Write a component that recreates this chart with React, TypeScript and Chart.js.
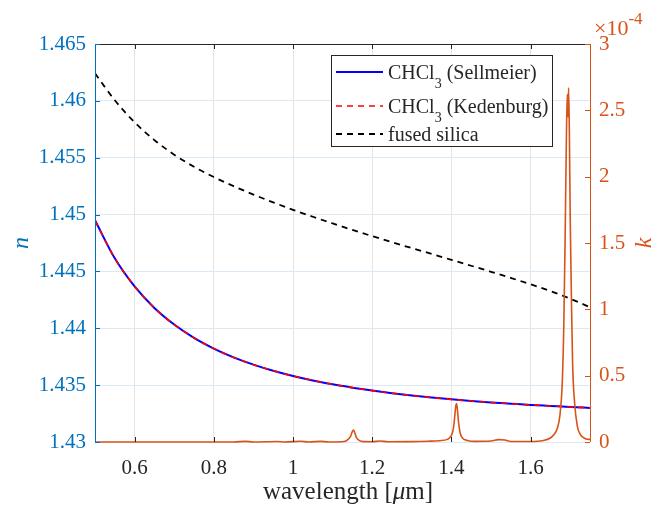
import React, { useEffect, useRef } from "react";
import { Chart, registerables } from "chart.js";

Chart.register(...registerables);

// ---- data ----
const wavelengths = [0.5, 0.55, 0.6, 0.65, 0.7, 0.75, 0.8, 0.85, 0.9, 0.95, 1.0, 1.05, 1.1, 1.15, 1.2, 1.25, 1.3, 1.35, 1.4, 1.45, 1.5, 1.55, 1.6, 1.65, 1.7, 1.75];
const nSellmeier = [1.4495, 1.44615, 1.44368, 1.44179, 1.44033, 1.43916, 1.43822, 1.43744, 1.4368, 1.43626, 1.4358, 1.43541, 1.43507, 1.43478, 1.43452, 1.43429, 1.43409, 1.43391, 1.43375, 1.43361, 1.43348, 1.43337, 1.43326, 1.43317, 1.43308, 1.433];
const nKedenburg = [1.4495, 1.44615, 1.44368, 1.44179, 1.44033, 1.43916, 1.43822, 1.43744, 1.4368, 1.43626, 1.4358, 1.43541, 1.43507, 1.43478, 1.43452, 1.43429, 1.43409, 1.43391, 1.43375, 1.43361, 1.43348, 1.43337, 1.43326, 1.43317, 1.43308, 1.433];
const nSilica = [1.46242, 1.46005, 1.45812, 1.45655, 1.45527, 1.4542, 1.4533, 1.4525, 1.45176, 1.45107, 1.45042, 1.44981, 1.44922, 1.44865, 1.4481, 1.44757, 1.44705, 1.44654, 1.44602, 1.4455, 1.44497, 1.44443, 1.44387, 1.44327, 1.4426, 1.44185];

// k in units of 1e-4
const kWavelengths = [0.5, 0.85, 0.88, 0.9, 0.96, 0.98, 1.02, 1.04, 1.07, 1.09, 1.12, 1.135, 1.145, 1.15, 1.153, 1.156, 1.16, 1.168, 1.18, 1.2, 1.22, 1.24, 1.3, 1.34, 1.37, 1.39, 1.4, 1.405, 1.408, 1.411, 1.413, 1.415, 1.418, 1.422, 1.428, 1.44, 1.46, 1.5, 1.52, 1.535, 1.55, 1.6, 1.63, 1.65, 1.66, 1.667, 1.674, 1.68, 1.684, 1.687, 1.69, 1.6925, 1.6945, 1.696, 1.698, 1.7, 1.703, 1.706, 1.711, 1.718, 1.725, 1.735, 1.745, 1.75];
const kValues = [0, 0, 0.005, 0, 0.004, 0, 0.006, 0, 0.005, 0, 0.002, 0.01, 0.04, 0.08, 0.09, 0.07, 0.035, 0.01, 0.003, 0.002, 0.008, 0.002, 0.003, 0.006, 0.01, 0.02, 0.05, 0.1, 0.18, 0.27, 0.29, 0.25, 0.15, 0.07, 0.03, 0.012, 0.005, 0.008, 0.018, 0.015, 0.004, 0.004, 0.01, 0.03, 0.06, 0.1, 0.2, 0.45, 0.9, 1.5, 2.2, 2.62, 2.45, 2.67, 2.3, 1.7, 1.1, 0.6, 0.3, 0.12, 0.06, 0.03, 0.02, 0.02];

const xTicks = [0.6, 0.8, 1, 1.2, 1.4, 1.6];
const nTicks = [1.43, 1.435, 1.44, 1.445, 1.45, 1.455, 1.46, 1.465];
const kTicks = [0, 0.5, 1, 1.5, 2, 2.5, 3];

const legendLabels = [
  { base: "CHCl", sub: "3", rest: " (Sellmeier)" },
  { base: "CHCl", sub: "3", rest: " (Kedenburg)" },
  { base: "fused silica", sub: "", rest: "" },
];

const BLUE_AX = "#0072BD";
const ORANGE = "#D95319";
const AXC = "#262626";
const SERIF = "'Liberation Serif', serif";
const fmt = (v: any) => String(+Number(v).toFixed(4));

Chart.defaults.font.family = SERIF;

const frameAndTextPlugin = {
  id: "frameAndText",
  afterDatasetsDraw(chart: any) {
    const { ctx, chartArea } = chart;
    const { left, right, top, bottom } = chartArea;
    const xs = chart.scales.x;
    const yl = chart.scales.y;
    const yr = chart.scales.y1;
    ctx.save();
    ctx.lineWidth = 1;
    ctx.strokeStyle = AXC;
    ctx.beginPath();
    ctx.moveTo(left, top + 0.5);
    ctx.lineTo(right, top + 0.5);
    ctx.stroke();
    const tl = 5;
    for (const v of xTicks) {
      const px = Math.round(xs.getPixelForValue(v)) + 0.5;
      ctx.beginPath();
      ctx.moveTo(px, bottom);
      ctx.lineTo(px, bottom - tl);
      ctx.moveTo(px, top);
      ctx.lineTo(px, top + tl);
      ctx.stroke();
    }
    ctx.strokeStyle = BLUE_AX;
    ctx.beginPath();
    ctx.moveTo(left + 0.5, top);
    ctx.lineTo(left + 0.5, bottom);
    ctx.stroke();
    for (const v of nTicks) {
      const py = Math.round(yl.getPixelForValue(v)) + 0.5;
      ctx.beginPath();
      ctx.moveTo(left, py);
      ctx.lineTo(left + tl, py);
      ctx.stroke();
    }
    ctx.strokeStyle = ORANGE;
    ctx.beginPath();
    ctx.moveTo(right + 0.5, top);
    ctx.lineTo(right + 0.5, bottom);
    ctx.stroke();
    for (const v of kTicks) {
      const py = Math.round(yr.getPixelForValue(v)) + 0.5;
      ctx.beginPath();
      ctx.moveTo(right, py);
      ctx.lineTo(right - tl, py);
      ctx.stroke();
    }

    // axis titles
    ctx.textBaseline = "middle";
    const parts = [
      { t: "wavelength [", f: `25px ${SERIF}` },
      { t: "\u03bc", f: `italic 25px ${SERIF}` },
      { t: "m]", f: `25px ${SERIF}` },
    ];
    let total = 0;
    for (const p of parts) {
      ctx.font = p.f;
      total += ctx.measureText(p.t).width;
    }
    let cx = 348 - total / 2;
    ctx.fillStyle = AXC;
    ctx.textAlign = "left";
    for (const p of parts) {
      ctx.font = p.f;
      ctx.fillText(p.t, cx, 492);
      cx += ctx.measureText(p.t).width;
    }
    ctx.save();
    ctx.translate(22, (top + bottom) / 2);
    ctx.rotate(-Math.PI / 2);
    ctx.font = `italic 24px ${SERIF}`;
    ctx.fillStyle = BLUE_AX;
    ctx.textAlign = "center";
    ctx.fillText("n", 0, 0);
    ctx.restore();
    ctx.save();
    ctx.translate(645, (top + bottom) / 2);
    ctx.rotate(-Math.PI / 2);
    ctx.font = `italic 24px ${SERIF}`;
    ctx.fillStyle = ORANGE;
    ctx.textAlign = "center";
    ctx.fillText("k", 0, 0);
    ctx.restore();
    // exponent label
    ctx.fillStyle = ORANGE;
    ctx.textAlign = "left";
    ctx.textBaseline = "alphabetic";
    ctx.font = `22px ${SERIF}`;
    ctx.fillText("\u00d710", 594, 35);
    const w10 = ctx.measureText("\u00d710").width;
    ctx.font = `17px ${SERIF}`;
    ctx.fillText("-4", 594 + w10, 24);

    // legend
    const bx = 331, by = 55, bw = 221, bh = 91;
    ctx.fillStyle = "#ffffff";
    ctx.fillRect(bx, by, bw, bh);
    ctx.strokeStyle = AXC;
    ctx.lineWidth = 1;
    ctx.strokeRect(bx + 0.5, by + 0.5, bw, bh);
    const rowY = [72, 106, 134];
    const ds = chart.data.datasets;
    for (let i = 0; i < 3; i++) {
      const d = ds[i];
      ctx.save();
      ctx.strokeStyle = d.borderColor;
      ctx.lineWidth = d.borderWidth;
      ctx.setLineDash(d.borderDash || []);
      ctx.beginPath();
      ctx.moveTo(336, rowY[i]);
      ctx.lineTo(383, rowY[i]);
      ctx.stroke();
      ctx.restore();
      const lab = legendLabels[i];
      ctx.fillStyle = AXC;
      ctx.textBaseline = "alphabetic";
      let tx = 388;
      const base = rowY[i] + 7;
      ctx.font = `20px ${SERIF}`;
      ctx.fillText(lab.base, tx, base);
      tx += ctx.measureText(lab.base).width;
      if (lab.sub) {
        ctx.font = `14px ${SERIF}`;
        ctx.fillText(lab.sub, tx, base + 9);
        tx += ctx.measureText(lab.sub).width;
      }
      if (lab.rest) {
        ctx.font = `20px ${SERIF}`;
        ctx.fillText(lab.rest, tx, base);
      }
    }
    ctx.restore();
  },
};

export default function App() {
  const ref = useRef<HTMLCanvasElement | null>(null);
  useEffect(() => {
    if (!ref.current) return;
    const pts = (xv: number[], yv: number[]) => xv.map((x, i) => ({ x, y: yv[i] }));
    const tickFont = { family: SERIF, size: 21 };
    const chart = new Chart(ref.current, {
      type: "line",
      data: {
        datasets: [
          {
            label: "CHCl3 (Sellmeier)",
            data: pts(wavelengths, nSellmeier),
            borderColor: "#0000FF",
            borderWidth: 2,
            pointRadius: 0,
            cubicInterpolationMode: "monotone",
            yAxisID: "y",
            order: 4,
          },
          {
            label: "CHCl3 (Kedenburg)",
            data: pts(wavelengths, nKedenburg),
            borderColor: "#FF0000",
            borderWidth: 1.6,
            borderDash: [6, 5],
            pointRadius: 0,
            cubicInterpolationMode: "monotone",
            yAxisID: "y",
            order: 3,
          },
          {
            label: "fused silica",
            data: pts(wavelengths, nSilica),
            borderColor: "#000000",
            borderWidth: 1.8,
            borderDash: [6, 5],
            pointRadius: 0,
            cubicInterpolationMode: "monotone",
            yAxisID: "y",
            order: 2,
          },
          {
            label: "k",
            data: pts(kWavelengths, kValues),
            borderColor: ORANGE,
            borderWidth: 1.6,
            pointRadius: 0,
            cubicInterpolationMode: "monotone",
            yAxisID: "y1",
            order: 1,
            clip: 3,
          },
        ],
      } as any,
      options: {
        animation: false,
        responsive: false,
        layout: { padding: { top: 44, left: 0, right: 0, bottom: 0 } },
        plugins: { legend: { display: false }, tooltip: { enabled: false } },
        scales: {
          x: {
            type: "linear",
            min: 0.5,
            max: 1.75,
            afterBuildTicks: (s: any) => {
              s.ticks = xTicks.map((v) => ({ value: v }));
            },
            afterFit: (s: any) => {
              s.height = 65;
            },
            ticks: { color: AXC, font: tickFont, padding: 14, maxRotation: 0, callback: fmt },
            grid: { color: "#e4e4e4", drawTicks: false },
            border: { display: false },
          },
          y: {
            type: "linear",
            position: "left",
            min: 1.43,
            max: 1.465,
            afterBuildTicks: (s: any) => {
              s.ticks = nTicks.map((v) => ({ value: v }));
            },
            afterFit: (s: any) => {
              s.width = 95;
            },
            ticks: { color: BLUE_AX, font: tickFont, padding: 9, callback: fmt },
            grid: { color: "#dbe9f4", drawTicks: false },
            border: { display: false },
          },
          y1: {
            type: "linear",
            position: "right",
            min: 0,
            max: 3,
            afterBuildTicks: (s: any) => {
              s.ticks = kTicks.map((v) => ({ value: v }));
            },
            afterFit: (s: any) => {
              s.width = 82;
            },
            ticks: { color: ORANGE, font: tickFont, padding: 9, callback: fmt },
            grid: { display: false, drawTicks: false },
            border: { display: false },
          },
        },
      } as any,
      plugins: [frameAndTextPlugin],
    });
    return () => chart.destroy();
  }, []);
  return (
    <div style={{ position: "fixed", left: 0, top: 0, width: 672, height: 507, background: "#ffffff" }}>
      <canvas ref={ref} width={672} height={507} style={{ display: "block" }} />
    </div>
  );
}
